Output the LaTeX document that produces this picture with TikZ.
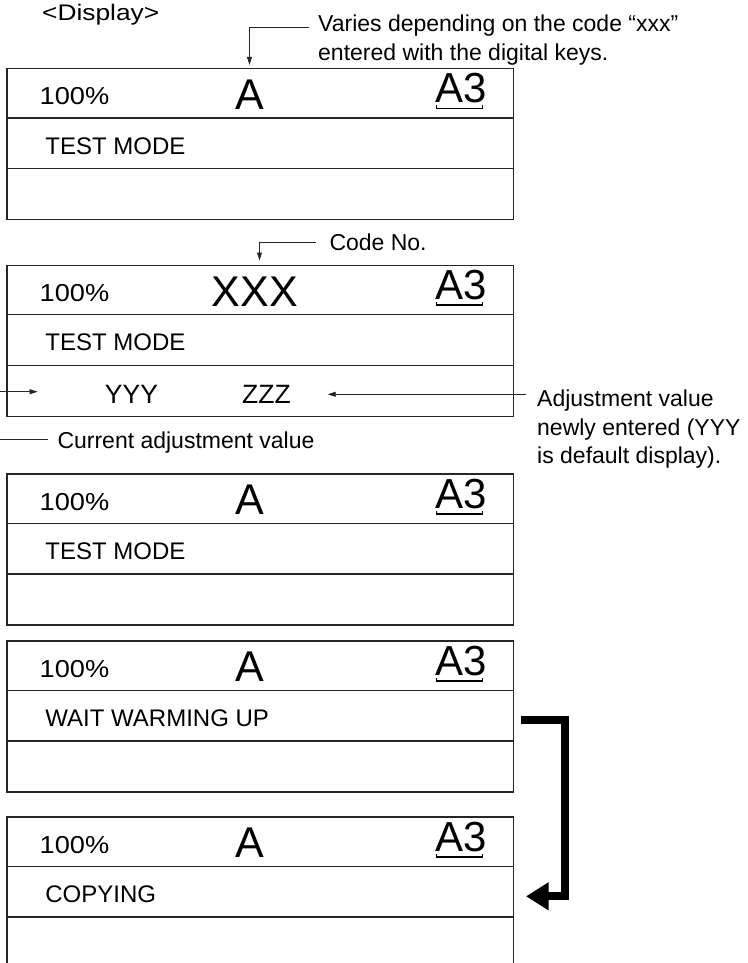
\documentclass[tikz,border=0pt]{standalone}
\usepackage{fontspec}
\setmainfont{Liberation Sans}
\newfontfamily\widesans[FakeStretch=1.17]{Liberation Sans}
\newfontfamily\pctsans[FakeStretch=1.11]{Liberation Sans}
\usetikzlibrary{arrows.meta}
\tikzset{
  frame/.style={draw=black!85, line width=1.6pt, inner sep=0pt, minimum width=506.7pt, minimum height=151pt, anchor=north west},
  rowline/.style={draw=black!85, line width=1.2pt},
  disp/.style={inner sep=0pt, font=\fontsize{24}{28}\selectfont},
  pct/.style={inner sep=0pt, font=\pctsans\fontsize{24.5}{28}\selectfont},
  val/.style={inner sep=0pt, font=\fontsize{26.5}{30}\selectfont},
  big/.style={inner sep=0pt, font=\fontsize{43}{50}\selectfont},
  sz/.style={inner sep=0pt, font=\fontsize{42}{50}\selectfont},
  note/.style={inner sep=0pt, font=\fontsize{23}{28}\selectfont, anchor=base west},
  leader/.style={draw=black!85, line width=0.9pt},
  tipped/.style={-{Triangle[length=8pt,width=5pt]}},
  fatarrow/.style={draw=black, line width=7.7pt, -{Triangle[length=22.7pt,width=26.7pt]}},
}
% #1 name, #2 top, #3 x of middle text, #4 middle text, #5 second row text
\newcommand\lcdpanel[5]{%
  \node[frame] (#1) at (6,#2) {};
  \draw[rowline] (6,#2+50.3) -- (512.7,#2+50.3);
  \draw[rowline] (6,#2+100.7) -- (512.7,#2+100.7);
  \node[pct, anchor=base west] (#1p) at (39.5,#2+37.3) {100\%};
  \node[big, anchor=base] (#1m) at (#3,#2+41.6) {#4};
  \node[sz, anchor=base east] (#1s) at (487.5,#2+35) {A3};
  \draw[line width=1.3pt] ([xshift=1pt,yshift=-2.6pt]#1s.base west) -- ++(0,-3pt)
     -| ([xshift=-5.2pt,yshift=-2.6pt]#1s.base east);
  \node[disp, anchor=base west] (#1t) at (45.2,#2+86.3) {#5};
}
\begin{document}
\begin{tikzpicture}[x=1pt,y=-1pt]
\clip (0,0) rectangle (747,963);

\node[inner sep=0pt, anchor=base west, font=\widesans\fontsize{22.5}{27}\selectfont] (disp) at (42,20.7) {<Display>};

% panel 1
\lcdpanel{b1}{67.7}{250}{A}{TEST MODE}
\node[note] (vary1) at (318,31.7) {Varies depending on the code “xxx”};
\node[note] (vary2) at (318,61) {entered with the digital keys.};
\coordinate (t1) at (249.5,65);
\draw[leader,tipped] ([xshift=-9pt,yshift=4pt]vary1.base west) -| (t1);

% panel 2
\lcdpanel{b2}{264.5}{255}{XXX}{TEST MODE}
\node[note] (code) at (329.3,250) {Code No.};
\coordinate (t2) at (259.5,260.5);
\draw[leader,tipped] ([xshift=-13pt,yshift=7.7pt]code.base west) -| (t2);
\node[val, anchor=base] (yyy) at (131.5,403.5) {YYY};
\node[val, anchor=base] (zzz) at (266.5,403.5) {ZZZ};
\coordinate (yl) at (-2,391.7);
\coordinate (yt) at (37.7,391.7);
\draw[leader,tipped] (yl) -- (yt);
\node[note] (cur) at (57.3,448.3) {Current adjustment value};
\coordinate (cl) at (-2,439.3);
\draw[leader] (cl) -- ([xshift=-9.3pt,yshift=9pt]cur.base west);
\node[note] (adj1) at (537,406) {Adjustment value};
\node[note] (adj2) at (537,435) {newly entered (YYY};
\node[note] (adj3) at (537,463.3) {is default display).};
\coordinate (zt) at (327.7,394.3);
\draw[leader,tipped] ([xshift=-10.7pt,yshift=11.7pt]adj1.base west) -- (zt);

% panel 3
\lcdpanel{b3}{473.3}{250}{A}{TEST MODE}

% panel 4
\lcdpanel{b4}{640.3}{250}{A}{WAIT WARMING UP}

% panel 5
\lcdpanel{b5}{816.3}{250}{A}{COPYING}

% thick arrow from panel 4 to panel 5
\coordinate (ws) at (521,720);
\coordinate (wc1) at (565.2,720);
\coordinate (wc2) at (565.2,896.3);
\coordinate (we) at (526,896.3);
\draw[fatarrow] (ws) -- (wc1) -- (wc2) -- (we);
\end{tikzpicture}
\end{document}
